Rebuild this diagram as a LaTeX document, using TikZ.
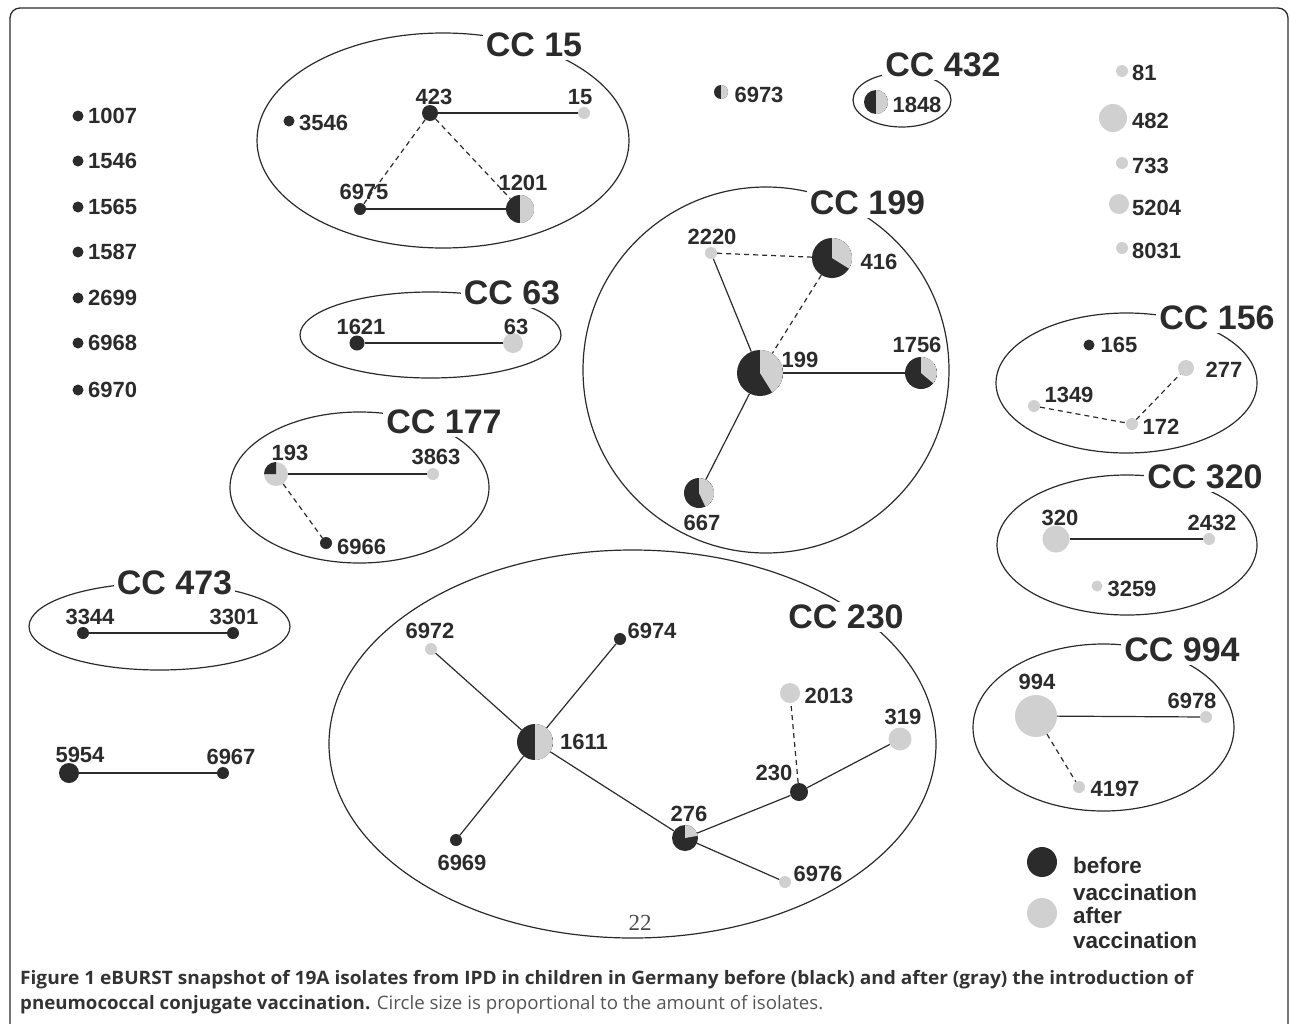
\documentclass[tikz,border=0pt]{standalone}
\usepackage{fontspec}
\setmainfont{Liberation Sans}
\newfontfamily\capfont{Open Sans}
\newfontfamily\serfont{Liberation Serif}
\usetikzlibrary{shapes.geometric}
\definecolor{dk}{HTML}{2B2B2B}
\definecolor{gy}{HTML}{D0D0D0}
\definecolor{capgray}{HTML}{555555}
\definecolor{capdark}{HTML}{333333}
\tikzset{
 bk/.style={circle, inner sep=0pt, minimum size=#1*2pt, fill=dk},
 gr/.style={circle, inner sep=0pt, minimum size=#1*2pt, fill=gy},
 pie/.style n args={5}{circle, inner sep=0pt, minimum size=#1*2pt, fill=#2,
   path picture={\fill[#3] (path picture bounding box.center) -- ++(#4:#1pt)
     arc[start angle=#4, end angle=#5, radius=#1pt] -- cycle;}},
 num/.style={font=\bfseries\fontsize{22}{24}\selectfont, inner sep=0pt, text=dk},
 lg/.style={font=\bfseries\fontsize{22.5}{25}\selectfont, inner sep=0pt, text=dk, anchor=west},
 cc/.style={font=\bfseries\fontsize{34}{36}\selectfont, fill=white, inner sep=3pt, text=dk},
 hull/.style={draw=dk, line width=1.2pt, ellipse, inner sep=0pt},
 ln/.style={draw=dk, line width=1.2pt},
 dl/.style={draw=dk, line width=1.2pt, dash pattern=on 5pt off 4pt},
}
\begin{document}
\begin{tikzpicture}[x=1pt,y=-1pt]
\useasboundingbox (0,0) rectangle (1290,1023);
% frame
\draw[draw=dk, line width=1.3pt, rounded corners=10pt] (10,8) rectangle (1288,1045);

% ---------- hulls ----------
\node[hull, minimum width=372pt, minimum height=215pt] (h15) at (443,140.5) {};
\node[hull, minimum width=98pt, minimum height=54pt] (h432) at (902,100) {};
\node[hull, minimum width=261pt, minimum height=86pt] (h63) at (430.5,335) {};
\node[hull, minimum width=259pt, minimum height=151pt] (h177) at (359.5,487.5) {};
\node[hull, minimum width=261pt, minimum height=87pt] (h473) at (159.5,626.5) {};
\node[draw=dk, line width=1.2pt, circle, inner sep=0pt, minimum size=366pt] (h199) at (766,370) {};
\node[hull, minimum width=261pt, minimum height=140pt] (h156) at (1126.5,383) {};
\node[hull, minimum width=260pt, minimum height=140pt] (h320) at (1127,545) {};
\node[hull, minimum width=261pt, minimum height=167pt] (h994) at (1103.5,727.5) {};
\node[hull, minimum width=607pt, minimum height=388pt] (h230) at (632.5,744) {};

% ---------- hull labels ----------
\node[cc] (c15) at (534,45) {CC 15};
\node[cc] (c432) at (943,65) {CC 432};
\node[cc] (c63) at (512,293) {CC 63};
\node[cc] (c177) at (444,422) {CC 177};
\node[cc] (c473) at (174.5,583) {CC 473};
\node[cc] (c199) at (867.5,203) {CC 199};
\node[cc] (c156) at (1217,318) {CC 156};
\node[cc] (c320) at (1205,477) {CC 320};
\node[cc] (c994) at (1182,650) {CC 994};
\node[cc] (c230) at (846,617) {CC 230};

% ---------- singletons left ----------
\foreach \nm/\yy in {1007/116,1546/161,1565/207,1587/252,2699/298,6968/343,6970/390}{
  \node[bk=5.5] (s\nm) at (78,\yy) {};
  \node[num, anchor=west] (ls\nm) at (88,\yy) {\nm};
}
% ---------- singletons right ----------
\node[gr=6] (s81) at (1122,71) {};
\node[num, anchor=west] (ls81) at (1132,73) {81};
\node[gr=14] (s482) at (1113,118) {};
\node[num, anchor=west] (ls482) at (1132,121) {482};
\node[gr=6] (s733) at (1122,163) {};
\node[num, anchor=west] (ls733) at (1132,166) {733};
\node[gr=10] (s5204) at (1119,204) {};
\node[num, anchor=west] (ls5204) at (1132,208) {5204};
\node[gr=6] (s8031) at (1122,248) {};
\node[num, anchor=west] (ls8031) at (1132,251) {8031};

% 6973
\node[pie={7}{dk}{gy}{-90}{90}] (s6973) at (721,92) {};
\node[num] (ls6973) at (759,95) {6973};

% ---------- CC 15 ----------
\node[bk=8] (n423) at (430,113) {};
\node[gr=6] (n15) at (584,113) {};
\node[bk=5.5] (n3546) at (289,121) {};
\node[bk=6] (n6975) at (360,209) {};
\node[pie={14}{dk}{gy}{-90}{90}] (n1201) at (520,209) {};
\node[num] (l423) at (434,97) {423};
\node[num] (l15) at (580,97) {15};
\node[num, anchor=west] (l3546) at (299,123) {3546};
\node[num] (l6975) at (364,192) {6975};
\node[num] (l1201) at (523,183) {1201};
\draw[ln] (n423) -- (n15);
\draw[ln] (n6975) -- (n1201);
\draw[dl] (n423) -- (n6975);
\draw[dl] (n423) -- (n1201);

% ---------- CC 432 ----------
\node[pie={12}{dk}{gy}{-90}{90}] (n1848) at (876,102) {};
\node[num] (l1848) at (917,105) {1848};

% ---------- CC 63 ----------
\node[bk=7.5] (n1621) at (357,343) {};
\node[gr=10] (n63) at (513,343) {};
\node[num] (l1621) at (361,327) {1621};
\node[num] (l63) at (516,327) {63};
\draw[ln] (n1621) -- (n63);

% ---------- CC 177 ----------
\node[pie={12}{gy}{dk}{90}{180}] (n193) at (276,474) {};
\node[gr=6] (n3863) at (433,474) {};
\node[bk=6] (n6966) at (326,543) {};
\node[num] (l193) at (290,453) {193};
\node[num] (l3863) at (436,457) {3863};
\node[num, anchor=west] (l6966) at (337,547) {6966};
\draw[ln] (n193) -- (n3863);
\draw[dl] (n193) -- (n6966);

% ---------- CC 473 ----------
\node[bk=6] (n3344) at (83,633) {};
\node[bk=6] (n3301) at (233,633) {};
\node[num] (l3344) at (90,617) {3344};
\node[num] (l3301) at (234,617) {3301};
\draw[ln] (n3344) -- (n3301);

% 5954 - 6967
\node[bk=10] (n5954) at (69,773) {};
\node[bk=6] (n6967) at (223,773) {};
\node[num] (l5954) at (80,755) {5954};
\node[num] (l6967) at (231,757) {6967};
\draw[ln] (n5954) -- (n6967);

% ---------- CC 199 ----------
\node[gr=6] (n2220) at (711,253) {};
\node[pie={20}{dk}{gy}{-32}{90}] (n416) at (832,258) {};
\node[pie={23}{dk}{gy}{-58}{90}] (n199) at (760,373) {};
\node[pie={16}{dk}{gy}{-40}{90}] (n1756) at (921,373) {};
\node[pie={15}{dk}{gy}{-65}{90}] (n667) at (699,493) {};
\node[num] (l2220) at (712,237) {2220};
\node[num] (l416) at (879,262) {416};
\node[num] (l199) at (800,360) {199};
\node[num] (l1756) at (917,345) {1756};
\node[num] (l667) at (702,523) {667};
\draw[dl] (n2220) -- (n416);
\draw[ln] (n2220) -- (n199);
\draw[dl] (n416) -- (n199);
\draw[ln] (n199) -- (n1756);
\draw[ln] (n199) -- (n667);

% ---------- CC 156 ----------
\node[bk=5.5] (n165) at (1089,345) {};
\node[gr=8] (n277) at (1186,368) {};
\node[gr=6] (n1349) at (1034,406) {};
\node[gr=6] (n172) at (1132,424) {};
\node[num] (l165) at (1119,345) {165};
\node[num] (l277) at (1224,370) {277};
\node[num] (l1349) at (1069,395) {1349};
\node[num] (l172) at (1161,427) {172};
\draw[dl] (n1349) -- (n172);
\draw[dl] (n172) -- (n277);

% ---------- CC 320 ----------
\node[gr=13.5] (n320) at (1056,539) {};
\node[gr=6] (n2432) at (1209,539) {};
\node[gr=5.5] (n3259) at (1097,586) {};
\node[num] (l320) at (1060,518) {320};
\node[num] (l2432) at (1212,523) {2432};
\node[num] (l3259) at (1132,589) {3259};
\draw[ln] (n320) -- (n2432);

% ---------- CC 994 ----------
\node[gr=21] (n994) at (1036,716) {};
\node[gr=6] (n6978) at (1206,717) {};
\node[gr=6] (n4197) at (1079,787) {};
\node[num] (l994) at (1037,682) {994};
\node[num] (l6978) at (1192,701) {6978};
\node[num] (l4197) at (1115,789) {4197};
\draw[ln] (n994) -- (n6978);
\draw[dl] (n994) -- (n4197);

% ---------- CC 230 ----------
\node[gr=6] (n6972) at (431,649) {};
\node[bk=6] (n6974) at (620,639) {};
\node[pie={18}{dk}{gy}{-90}{90}] (n1611) at (535,742) {};
\node[bk=6] (n6969) at (456,840) {};
\node[pie={13}{dk}{gy}{10}{90}] (n276) at (685,838) {};
\node[bk=9] (n230) at (799,792) {};
\node[gr=10] (n2013) at (790,693) {};
\node[gr=11.5] (n319) at (900,739) {};
\node[gr=6] (n6976) at (785,882) {};
\node[num] (l6972) at (430,631) {6972};
\node[num] (l6974) at (652,631) {6974};
\node[num] (l1611) at (584,742) {1611};
\node[num] (l6969) at (462,863) {6969};
\node[num] (l276) at (689,814) {276};
\node[num] (l230) at (774,773) {230};
\node[num] (l2013) at (829,696) {2013};
\node[num] (l319) at (903,717) {319};
\node[num] (l6976) at (818,874) {6976};
\draw[ln] (n6972) -- (n1611);
\draw[ln] (n6974) -- (n1611);
\draw[ln] (n1611) -- (n6969);
\draw[ln] (n1611) -- (n276);
\draw[ln] (n276) -- (n230);
\draw[ln] (n230) -- (n319);
\draw[ln] (n276) -- (n6976);
\draw[dl] (n230) -- (n2013);
\node[inner sep=0pt, text=dk!85, font=\serfont\fontsize{23}{25}\selectfont] (p22) at (640,923) {22};

% ---------- legend ----------
\node[bk=15] (lgb) at (1042,862) {};
\node[gr=15] (lgg) at (1042,913) {};
\node[lg] (lt1) at (1073,865) {before};
\node[lg] (lt2) at (1073,892) {vaccination};
\node[lg] (lt3) at (1073,915) {after};
\node[lg] (lt4) at (1073,940) {vaccination};

% ---------- caption ----------
\node[anchor=base west, inner sep=0pt, text=capdark] (cap1) at (20,984)
  {\resizebox{1173pt}{\height}{\capfont\bfseries\fontsize{18.5}{21}\selectfont Figure 1 eBURST snapshot of 19A isolates from IPD in children in Germany before (black) and after (gray) the introduction of}};
\node[anchor=base west, inner sep=0pt, text=capdark] (cap2) at (20,1009)
  {\resizebox{803pt}{\height}{\capfont\fontsize{18.5}{21}\selectfont{\bfseries pneumococcal conjugate vaccination.} {\color{capgray}Circle size is proportional to the amount of isolates.}}};
\end{tikzpicture}
\end{document}
